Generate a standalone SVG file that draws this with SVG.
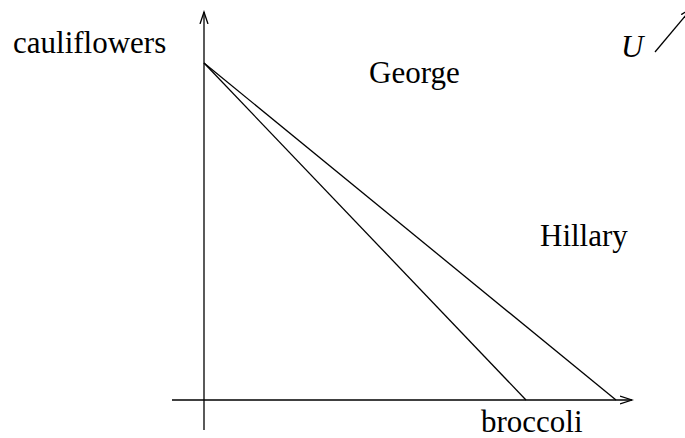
<svg xmlns="http://www.w3.org/2000/svg" width="685" height="438" viewBox="0 0 685 438">
<style>
.t{font-family:"Liberation Serif","Times New Roman",serif;font-size:31px;fill:#000}
.l{stroke:#000;stroke-width:1.3;fill:none}
</style>
<defs>
<marker id="a" markerWidth="14" markerHeight="12" refX="12" refY="6" orient="auto" markerUnits="userSpaceOnUse">
<path d="M0,2 L12,6 L0,10" fill="none" stroke="#000" stroke-width="1.3"/>
</marker>
</defs>
<rect width="685" height="438" fill="#fff"/>
<g id="connectors">
<line class="l" x1="204" y1="430" x2="204" y2="12" marker-end="url(#a)"/>
<line class="l" x1="172" y1="400" x2="632" y2="400" marker-end="url(#a)"/>
<line class="l" x1="204" y1="63" x2="526" y2="400"/>
<line class="l" x1="204" y1="63" x2="616" y2="400"/>
<line class="l" x1="655" y1="52" x2="692" y2="8" marker-end="url(#a)"/>
</g>
<g id="cauliflowers"><text class="t" x="13" y="53">cauliflowers</text></g>
<g id="george"><text class="t" x="369" y="83">George</text></g>
<g id="hillary"><text class="t" x="540" y="246">Hillary</text></g>
<g id="broccoli"><text class="t" x="481" y="432">broccoli</text></g>
<g id="U"><text class="t" x="621" y="57" font-style="italic">U</text></g>
</svg>
